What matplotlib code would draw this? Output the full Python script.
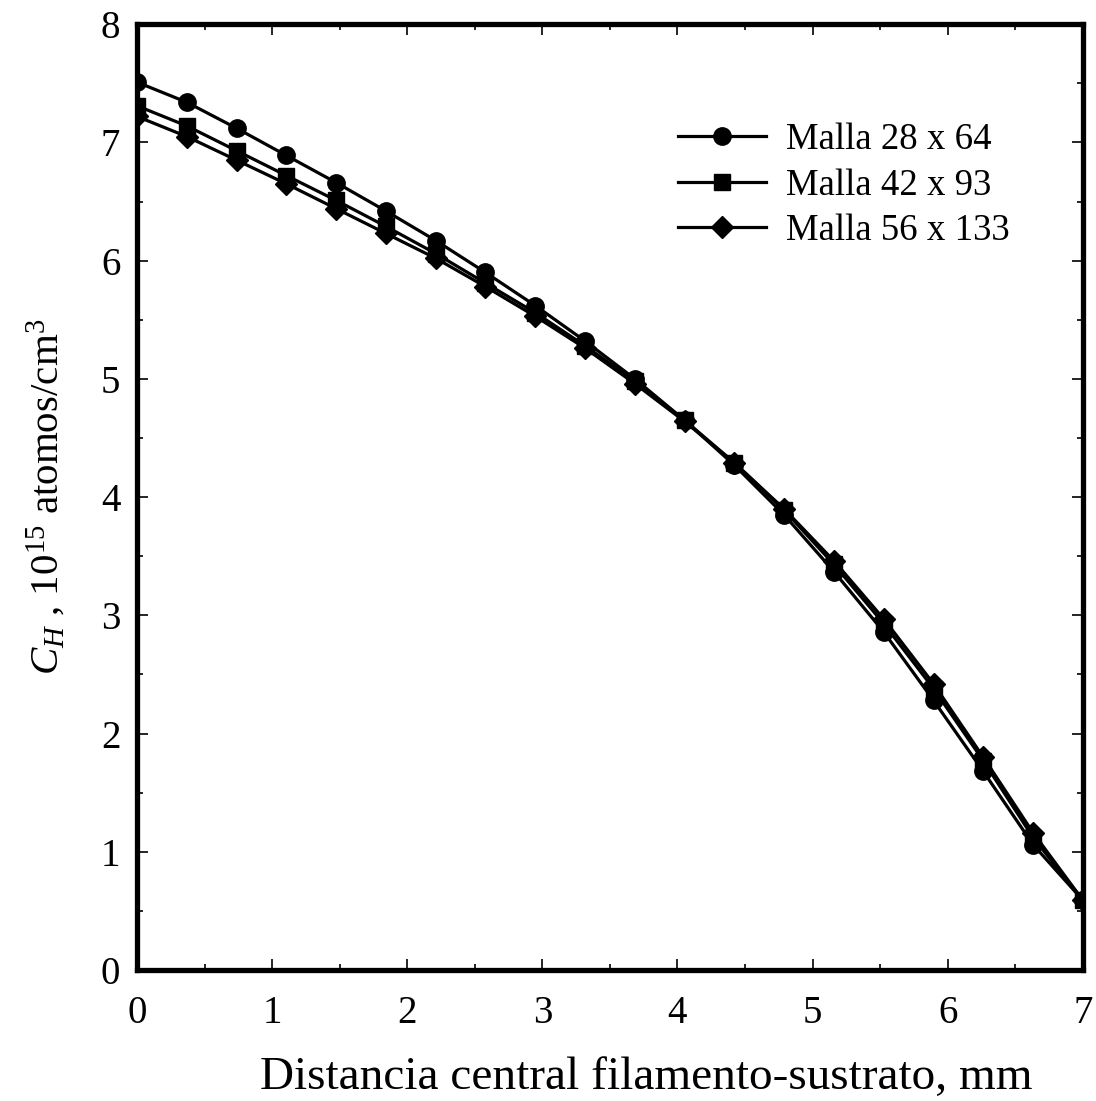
import numpy as np
import matplotlib
matplotlib.use('Agg')
import matplotlib.pyplot as plt
from matplotlib.ticker import MultipleLocator

plt.rcParams['font.family'] = ['Liberation Serif', 'DejaVu Serif']
plt.rcParams['mathtext.fontset'] = 'custom'
plt.rcParams['mathtext.rm'] = 'Liberation Serif'
plt.rcParams['mathtext.it'] = 'Liberation Serif:italic'

# distancia (mm), 20 nodos
dist = [0.0, 0.368, 0.737, 1.105, 1.474, 1.842, 2.211, 2.579, 2.947, 3.316,
        3.684, 4.053, 4.421, 4.789, 5.158, 5.526, 5.895, 6.263, 6.632, 7.0]

malla_28x64 = [7.51, 7.34, 7.12, 6.89, 6.66, 6.42, 6.17, 5.90, 5.62, 5.32,
               5.00, 4.65, 4.27, 3.85, 3.37, 2.86, 2.28, 1.68, 1.06, 0.59]
malla_42x93 = [7.31, 7.14, 6.93, 6.72, 6.51, 6.29, 6.06, 5.81, 5.56, 5.28,
               4.98, 4.65, 4.29, 3.89, 3.43, 2.93, 2.38, 1.77, 1.12, 0.59]
malla_56x133 = [7.22, 7.05, 6.85, 6.65, 6.44, 6.23, 6.02, 5.78, 5.53, 5.26,
                4.96, 4.64, 4.29, 3.90, 3.46, 2.97, 2.42, 1.80, 1.16, 0.59]

labels = ['Malla 28 x 64', 'Malla 42 x 93', 'Malla 56 x 133']

fig = plt.figure(figsize=(10.96, 11.01), dpi=100)
ax = fig.add_axes([0.125, 0.119, 0.863, 0.859])

ax.plot(dist, malla_28x64, '-o', color='black', lw=2.3, ms=12.5, label=labels[0])
ax.plot(dist, malla_42x93, '-s', color='black', lw=2.3, ms=11, label=labels[1])
ax.plot(dist, malla_56x133, '-D', color='black', lw=2.3, ms=11.5, label=labels[2])

ax.set_xlim(0, 7)
ax.set_ylim(0, 8)
ax.xaxis.set_major_locator(MultipleLocator(1))
ax.xaxis.set_minor_locator(MultipleLocator(0.5))
ax.yaxis.set_major_locator(MultipleLocator(1))
ax.yaxis.set_minor_locator(MultipleLocator(0.5))
ax.tick_params(which='both', direction='in', top=True, right=True, width=1.2)
ax.tick_params(which='major', length=8, labelsize=28)
ax.tick_params(axis='x', which='major', pad=18)
ax.tick_params(axis='y', which='major', pad=12)
ax.tick_params(which='minor', length=4)
for s in ax.spines.values():
    s.set_linewidth(3.8)

ax.set_xlabel('Distancia central filamento-sustrato, mm', fontsize=34, labelpad=18)
ax.xaxis.label.set_x(0.538)
ax.set_ylabel(r'$C_H$ , $10^{15}$ atomos/cm$^3$', fontsize=29.5, labelpad=24)

ax.legend(loc='upper right', bbox_to_anchor=(0.958, 0.931), frameon=False,
          fontsize=26.5, handlelength=2.4, handletextpad=0.55, labelspacing=0.3)

fig.savefig('out.png', dpi=100)
